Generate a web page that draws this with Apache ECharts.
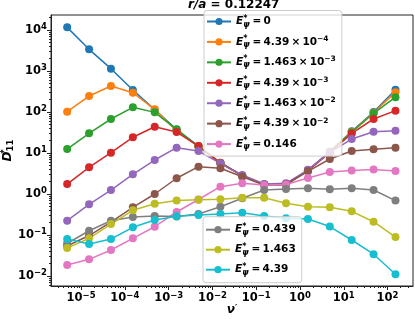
<!DOCTYPE html>
<html><head><meta charset="utf-8">
<script src="https://cdn.jsdelivr.net/npm/echarts@6/dist/echarts.min.js"></script>
<style>html,body{margin:0;padding:0;background:#fff}#c{width:415px;height:319px}</style>
</head><body><div id="c"></div>
<script>
// x values (nu')
const nu = [4.8e-6, 1.52e-5, 4.8e-5, 1.52e-4, 4.8e-4, 1.52e-3, 4.8e-3, 1.52e-2, 4.8e-2, 0.152, 0.48, 1.52, 4.8, 15.2, 48, 152];
// D*_11 for each E*_psi
const E_0        = [11600, 3380, 1140, 344, 114, 37.4, 14.8, 5.8, 2.8, 1.7, 1.7, 3.8, 10.8, 34, 100, 350];
const E_4p39em4  = [102, 245, 430, 295, 116, 34.4, 14.6, 5.8, 2.8, 1.7, 1.7, 3.8, 10.7, 33, 96, 305];
const E_1p463em3 = [12.5, 30.2, 67.5, 130, 98, 37.8, 14.3, 5.7, 2.8, 1.7, 1.7, 3.8, 10.5, 32, 93, 230];
const E_4p39em3  = [1.75, 4.48, 10.2, 24.2, 43.8, 32.5, 14.8, 5.7, 2.8, 1.7, 1.7, 3.7, 10.2, 30, 67.5, 108];
const E_1p463em2 = [0.223, 0.561, 1.25, 3.02, 6.74, 13.5, 11.2, 5.6, 2.9, 1.75, 1.82, 3.9, 10.4, 21.9, 33, 35];
const E_4p39em2  = [0.054, 0.097, 0.207, 0.474, 1.0, 2.42, 4.63, 4.24, 2.64, 1.66, 1.73, 3.58, 7.14, 11.2, 12.4, 13.5];
const E_0p146    = [0.0185, 0.0255, 0.043, 0.083, 0.159, 0.364, 0.734, 1.51, 1.82, 1.66, 1.71, 2.46, 3.44, 3.74, 3.96, 3.64];
const E_0p439    = [0.062, 0.127, 0.223, 0.275, 0.29, 0.282, 0.325, 0.49, 0.785, 1.25, 1.32, 1.38, 1.30, 1.38, 1.25, 0.69];
const E_1p463    = [0.048, 0.083, 0.185, 0.40, 0.58, 0.69, 0.726, 0.743, 0.81, 0.81, 0.593, 0.49, 0.474, 0.378, 0.211, 0.089];
const E_4p39     = [0.080, 0.060, 0.080, 0.154, 0.232, 0.286, 0.308, 0.325, 0.35, 0.29, 0.255, 0.245, 0.161, 0.0755, 0.034, 0.011];

const seriesValues = [E_0, E_4p39em4, E_1p463em3, E_4p39em3, E_1p463em2, E_4p39em2, E_0p146, E_0p439, E_1p463, E_4p39];
const legendMant = ['0', '4.39', '1.463', '4.39', '1.463', '4.39', '0.146', '0.439', '1.463', '4.39'];
const legendExp  = [null, '−4', '−3', '−3', '−2', '−2', null, null, null, null];
const colors = ['#1f77b4', '#ff7f0e', '#2ca02c', '#d62728', '#9467bd', '#8c564b', '#e377c2', '#7f7f7f', '#bcbd22', '#17becf'];

const xTickExp = [-5, -4, -3, -2, -1, 0, 1, 2];
const yTickExp = [-2, -1, 0, 1, 2, 3, 4];
const titleText = 'r/a = 0.12247';

const FF = 'DejaVu Sans';
const TS = '\u2009';
const xMin = Math.pow(10, -5.688), xMax = Math.pow(10, 2.582);
const yMin = Math.pow(10, -2.244), yMax = Math.pow(10, 4.366);

const xMajor = xTickExp.map(e => Math.pow(10, e));
const yMajor = yTickExp.map(e => Math.pow(10, e));
function minorTicks(lo, hi) {
  const out = [];
  for (let e = Math.floor(Math.log10(lo)); e <= Math.ceil(Math.log10(hi)); e++) {
    for (let m = 2; m <= 9; m++) { const v = m * Math.pow(10, e); if (v > lo && v < hi) out.push(v); }
  }
  return out;
}
const xMinor = minorTicks(xMin, xMax);
const yMinor = minorTicks(yMin, yMax);

function supLabel(v) {
  const e = Math.round(Math.log10(v));
  return '{b|10}{s|' + (e < 0 ? '−' : '') + Math.abs(e) + '}';
}
const tickRich = {
  b: {fontSize: 11.5, fontWeight: 'bold', lineHeight: 15, fontFamily: FF, color: '#000'},
  s: {fontSize: 8.5, fontWeight: 'bold', lineHeight: 10.5, verticalAlign: 'top', fontFamily: FF, color: '#000'}
};

const names = legendMant.map((m, i) => 'E' + i);
function legendFmt(name) {
  const i = names.indexOf(name);
  let s = '{E|E}{st|*}{psi|ψ}{t|' + TS + '=' + TS + legendMant[i];
  if (legendExp[i]) s += TS + '×' + TS + '10}{sup|' + legendExp[i] + '}';
  else s += '}';
  return s;
}
const legendRich = {
  E: {fontSize: 10.5, fontWeight: 'bold', fontStyle: 'italic', lineHeight: 14, fontFamily: FF, color: '#000'},
  st: {fontSize: 8, fontWeight: 'bold', lineHeight: 8, verticalAlign: 'top', width: 0, fontFamily: FF, color: '#000'},
  psi: {fontSize: 8, fontWeight: 'bold', fontStyle: 'italic', lineHeight: 9, verticalAlign: 'bottom', fontFamily: FF, color: '#000', padding: [0, 1, 0, 0]},
  t: {fontSize: 10.5, fontWeight: 'bold', lineHeight: 14, fontFamily: FF, color: '#000'},
  sup: {fontSize: 7.5, fontWeight: 'bold', lineHeight: 9, verticalAlign: 'top', fontFamily: FF, color: '#000'}
};

const series = seriesValues.map((vals, i) => ({
  name: names[i],
  type: 'line',
  data: nu.map((x, j) => [x, vals[j]]),
  symbol: 'circle',
  symbolSize: 8,
  showSymbol: true,
  color: colors[i],
  lineStyle: {width: 1.5, color: colors[i]},
  itemStyle: {color: colors[i]},
  emphasis: {disabled: true},
  z: 2
}));

const legendCommon = {
  orient: 'vertical',
  itemWidth: 24,
  itemHeight: 9,
  selectedMode: false,
  backgroundColor: 'rgba(255,255,255,0.8)',
  borderColor: '#cccccc',
  borderWidth: 1,
  borderRadius: 3,
  formatter: legendFmt,
  textStyle: {rich: legendRich, fontFamily: FF, fontSize: 10.5, fontWeight: 'bold', color: '#000'},
  z: 10
};

const option = {
  animation: false,
  textStyle: {fontFamily: FF},
  title: {
    text: '{i|r/a}{n| = ' + titleText.split(' = ')[1] + '}',
    left: 188, top: -2, padding: 0,
    textStyle: {rich: {
      i: {fontSize: 12, fontWeight: 'bold', fontStyle: 'italic', fontFamily: FF, color: '#000', lineHeight: 14},
      n: {fontSize: 12, fontWeight: 'bold', fontFamily: FF, color: '#000', lineHeight: 14}
    }}
  },
  grid: {left: 51, right: 2, top: 15, bottom: 33, show: true, borderColor: '#222', borderWidth: 1, backgroundColor: 'transparent', containLabel: false, outerBoundsMode: 'none'},
  legend: [
    Object.assign({}, legendCommon, {data: names.slice(0, 7), left: 204, top: 10.5, itemGap: 6.43, padding: [4, 6, 5, 2]}),
    Object.assign({}, legendCommon, {data: names.slice(7), left: 203, top: 216.7, itemGap: 6, padding: [6, 6, 6, 2]})
  ],
  xAxis: [{
    type: 'log', logBase: 10, min: xMin, max: xMax,
    name: '{nu|ν}{p|′}', nameLocation: 'middle', nameGap: 18, nameMoveOverlap: false,
    nameTextStyle: {rich: {nu: {fontSize: 12, fontWeight: 'bold', fontStyle: 'italic', fontFamily: FF, color: '#000'}, p: {fontSize: 9, fontWeight: 'bold', verticalAlign: 'top', lineHeight: 8, fontFamily: FF, color: '#000'}}},
    axisLine: {show: true, lineStyle: {color: '#222', width: 1}},
    axisTick: {show: true, length: 4, lineStyle: {color: '#222'}, customValues: xMajor},
    axisLabel: {customValues: xMajor, formatter: supLabel, rich: tickRich, margin: 5},
    splitLine: {show: false}, minorTick: {show: false}
  }, {
    type: 'log', logBase: 10, min: xMin, max: xMax, position: 'bottom',
    axisLine: {show: false},
    axisTick: {show: true, length: 2, lineStyle: {color: '#222'}, customValues: xMinor},
    axisLabel: {show: false}, splitLine: {show: false}
  }],
  yAxis: [{
    type: 'log', logBase: 10, min: yMin, max: yMax,
    name: '{D|D}{st|*}{sub|11}', nameLocation: 'middle', nameGap: 36, nameRotate: 90, nameMoveOverlap: false,
    nameTextStyle: {rich: {
      D: {fontSize: 12, fontWeight: 'bold', fontStyle: 'italic', fontFamily: FF, color: '#000', lineHeight: 15},
      st: {fontSize: 8.5, fontWeight: 'bold', fontFamily: FF, color: '#000', verticalAlign: 'top', lineHeight: 8, width: 0},
      sub: {fontSize: 8.5, fontWeight: 'bold', fontFamily: FF, color: '#000', verticalAlign: 'bottom', lineHeight: 9}
    }},
    axisLine: {show: true, lineStyle: {color: '#222', width: 1}},
    axisTick: {show: true, length: 4, lineStyle: {color: '#222'}, customValues: yMajor},
    axisLabel: {customValues: yMajor, formatter: supLabel, rich: tickRich, margin: 4},
    splitLine: {show: false}, minorTick: {show: false}
  }, {
    type: 'log', logBase: 10, min: yMin, max: yMax, position: 'left',
    axisLine: {show: false},
    axisTick: {show: true, length: 2, lineStyle: {color: '#222'}, customValues: yMinor},
    axisLabel: {show: false}, splitLine: {show: false}
  }],
  series: series
};
const chart = echarts.init(document.getElementById('c'), null, {renderer: 'canvas'});
chart.setOption(option);
</script>
</body></html>
